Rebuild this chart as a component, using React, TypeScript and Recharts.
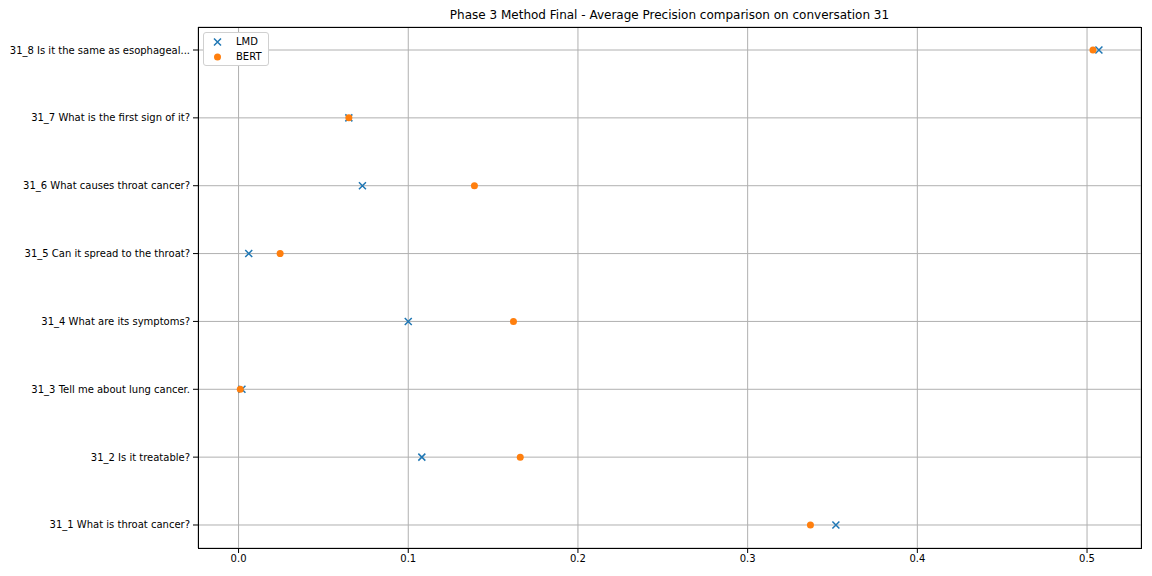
import { CartesianGrid, Scatter, ScatterChart, XAxis, YAxis } from "recharts";

const questions = [
  "31_1 What is throat cancer?",
  "31_2 Is it treatable?",
  "31_3 Tell me about lung cancer.",
  "31_4 What are its symptoms?",
  "31_5 Can it spread to the throat?",
  "31_6 What causes throat cancer?",
  "31_7 What is the first sign of it?",
  "31_8 Is it the same as esophageal...",
];

const lmd = [0.352, 0.108, 0.002, 0.1, 0.006, 0.073, 0.065, 0.507];
const bert = [0.337, 0.166, 0.001, 0.162, 0.0245, 0.139, 0.065, 0.5035];

const xTicks = [0, 0.1, 0.2, 0.3, 0.4, 0.5];
const yTicks = questions.map((_, i) => i);

const lmdData = lmd.map((v, i) => ({ x: v, y: i }));
const bertData = bert.map((v, i) => ({ x: v, y: i }));

const BLUE = "#1f77b4";
const ORANGE = "#ff7f0e";
const FONT = "DejaVu Sans, sans-serif";

const Cross = ({ cx, cy }: any) => (
  <path d={`M${cx - 3.5},${cy - 3.5}L${cx + 3.5},${cy + 3.5}M${cx - 3.5},${cy + 3.5}L${cx + 3.5},${cy - 3.5}`}
        stroke={BLUE} strokeWidth={1.5}/>
);

const Dot = ({ cx, cy }: any) => <circle cx={cx} cy={cy} r={3.5} fill={ORANGE}/>;

const QuestionTick = ({ x, y, payload }: any) => (
  <text x={x - 1} y={y} dy="0.35em" textAnchor="end" fill="#000" fontSize={10} fontFamily={FONT}>
    {questions[payload.value]}
  </text>
);

const LegendBox = () => (
  <div style={{ position: "absolute", left: 203, top: 32, border: "1px solid #d0d0d0", borderRadius: 3,
                background: "#fff", padding: "1px 6px 1px 6px", fontFamily: FONT, fontSize: 10,
                color: "#000", lineHeight: "15px" }}>
    <div style={{ display: "flex", alignItems: "center" }}>
      <svg width={16} height={10}><path d="M4,1.5L11,8.5M4,8.5L11,1.5" stroke={BLUE} strokeWidth={1.5}/></svg>
      <span style={{ marginLeft: 10 }}>LMD</span>
    </div>
    <div style={{ display: "flex", alignItems: "center" }}>
      <svg width={16} height={10}><circle cx={7.5} cy={5} r={3.5} fill={ORANGE}/></svg>
      <span style={{ marginLeft: 10 }}>BERT</span>
    </div>
  </div>
);

export default function App() {
  const tickStyle = { fill: "#000", fontSize: 10, fontFamily: FONT };
  return (
    <div style={{ position: "absolute", left: 0, top: 0, width: 1152, height: 576, background: "#fff" }}>
      <div style={{ position: "absolute", top: 8, left: 198, width: 943, textAlign: "center",
                    fontFamily: FONT, fontSize: 12, color: "#000" }}>
        Phase 3 Method Final - Average Precision comparison on conversation 31
      </div>
      <ScatterChart width={1152} height={576} margin={{ top: 27, right: 11, bottom: 0, left: 0 }}>
        <CartesianGrid stroke="#b0b0b0" strokeWidth={1}/>
        <XAxis type="number" dataKey="x" domain={[-0.0239, 0.5318]} ticks={xTicks}
               allowDataOverflow tickFormatter={(v: number) => v.toFixed(1)} tick={tickStyle}
               axisLine={false} tickLine={{ stroke: "#000" }} tickSize={5} height={28}/>
        <YAxis type="number" dataKey="y" domain={[-0.339, 7.339]} ticks={yTicks}
               allowDataOverflow tick={<QuestionTick/>} axisLine={false} tickLine={{ stroke: "#000" }}
               tickSize={5} width={198} interval={0}/>
        <Scatter name="LMD" data={lmdData} shape={<Cross/>} isAnimationActive={false}/>
        <Scatter name="BERT" data={bertData} shape={<Dot/>} isAnimationActive={false}/>
      </ScatterChart>
      <div style={{ position: "absolute", left: 198, top: 27, width: 944, height: 522,
                    border: "1px solid #000", boxSizing: "border-box", pointerEvents: "none" }}/>
      <LegendBox/>
    </div>
  );
}
